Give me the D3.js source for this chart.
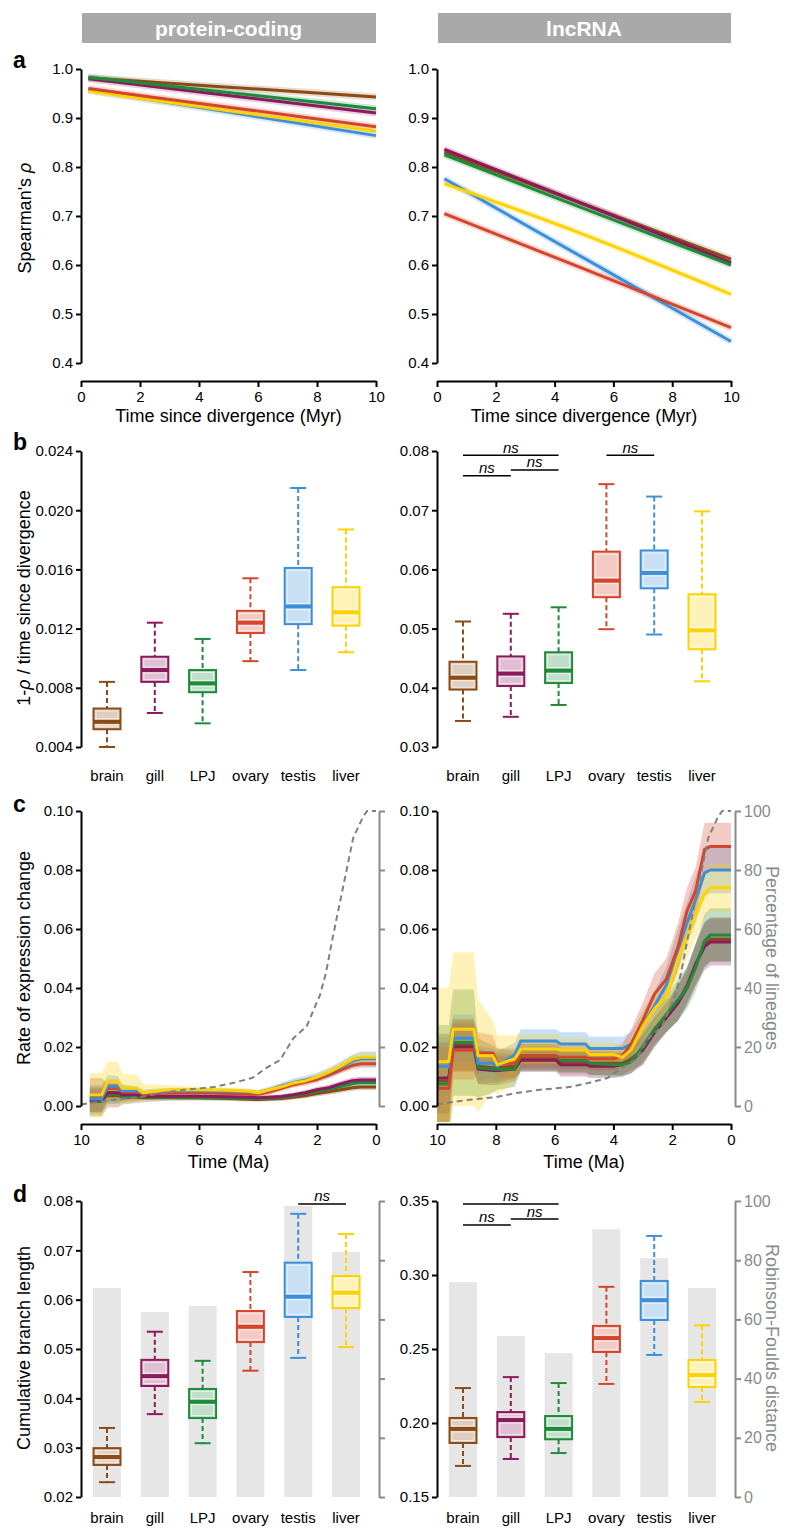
<!DOCTYPE html>
<html><head><meta charset="utf-8">
<script src="https://cdn.jsdelivr.net/npm/d3@7"></script>
<style>body{margin:0;background:#fff} svg{display:block}</style>
</head><body><svg id="fig" width="800" height="1538"></svg>
<script>
// ---------- DATA ----------
const tissues = ["brain","gill","LPJ","ovary","testis","liver"];
const tissueColors = ["#8b4a16","#8b1a5c","#1f8a3b","#d5452b","#3e8fd9","#ffd200"];
const headers = ["protein-coding","lncRNA"];

// panel a: fitted Spearman's rho vs time
const aTime = [0.25, 5, 10];
const aPcStart = [0.982, 0.980, 0.983, 0.960, 0.957, 0.955];
const aPcMid   = [0.963, 0.946, 0.952, 0.922, 0.912, 0.915];
const aPcEnd   = [0.943, 0.910, 0.919, 0.882, 0.864, 0.873];
const aLncStart = [0.830, 0.836, 0.825, 0.705, 0.776, 0.766];
const aLncMid   = [0.724, 0.724, 0.715, 0.592, 0.614, 0.662];
const aLncEnd   = [0.612, 0.605, 0.600, 0.472, 0.444, 0.540];
const aTicksX = [0,2,4,6,8,10];
const aTicksY = [0.4,0.5,0.6,0.7,0.8,0.9,1.0];

// panel b: 1-rho / time boxplots
const bPcLow  = [0.0040, 0.0063, 0.0056, 0.0098, 0.0092, 0.0104];
const bPcQ1   = [0.0052, 0.0084, 0.0077, 0.0117, 0.0123, 0.0122];
const bPcMed  = [0.0057, 0.0092, 0.0083, 0.0124, 0.0135, 0.0131];
const bPcQ3   = [0.0066, 0.0101, 0.0092, 0.0132, 0.0161, 0.0148];
const bPcHigh = [0.0084, 0.0124, 0.0113, 0.0154, 0.0215, 0.0187];
const bLncLow  = [0.0344, 0.0351, 0.0371, 0.0499, 0.0490, 0.0411];
const bLncQ1   = [0.0397, 0.0403, 0.0408, 0.0553, 0.0568, 0.0465];
const bLncMed  = [0.0417, 0.0424, 0.0429, 0.0581, 0.0594, 0.0497];
const bLncQ3   = [0.0444, 0.0453, 0.0460, 0.0630, 0.0632, 0.0558];
const bLncHigh = [0.0512, 0.0525, 0.0536, 0.0744, 0.0723, 0.0698];
const bPcTicks = [0.004,0.008,0.012,0.016,0.020,0.024];
const bLncTicks = [0.03,0.04,0.05,0.06,0.07,0.08];
const bLncSig = [["brain","LPJ",0.0793],["brain","gill",0.0758],["gill","LPJ",0.0768],["ovary","testis",0.0793]];

// panel c: rate of expression change through time
const cTimeL = [9.7, 9.3, 9.1, 8.75, 8.6, 8.1, 7.9, 7.0, 6.0, 5.0, 4.3, 4.0, 3.6, 3.2, 2.8, 2.4, 2.0, 1.6, 1.2, 0.8, 0.5, 0];
const cPcBrain  = [0.0030,0.0030,0.0035,0.0035,0.0030,0.0030,0.0028,0.0028,0.0027,0.0025,0.0023,0.0022,0.0024,0.0025,0.0030,0.0035,0.0042,0.0048,0.0055,0.0062,0.0064,0.0064];
const cPcGill   = [0.0020,0.0020,0.0045,0.0045,0.0038,0.0038,0.0032,0.0033,0.0033,0.0031,0.0030,0.0028,0.0030,0.0032,0.0038,0.0045,0.0055,0.0062,0.0075,0.0086,0.0088,0.0088];
const cPcLPJ    = [0.0015,0.0015,0.0040,0.0040,0.0032,0.0032,0.0030,0.0030,0.0030,0.0028,0.0026,0.0025,0.0027,0.0030,0.0035,0.0042,0.0050,0.0057,0.0066,0.0076,0.0080,0.0080];
const cPcOvary  = [0.0025,0.0025,0.0060,0.0060,0.0048,0.0048,0.0040,0.0045,0.0045,0.0042,0.0040,0.0040,0.0048,0.0060,0.0072,0.0080,0.0090,0.0105,0.0122,0.0138,0.0143,0.0143];
const cPcTestis = [0.0025,0.0025,0.0068,0.0068,0.0052,0.0052,0.0045,0.0052,0.0052,0.0050,0.0048,0.0045,0.0055,0.0068,0.0080,0.0088,0.0098,0.0113,0.0132,0.0152,0.0160,0.0160];
const cPcLiver  = [0.0037,0.0037,0.0082,0.0082,0.0060,0.0060,0.0045,0.0055,0.0055,0.0053,0.0050,0.0045,0.0055,0.0065,0.0078,0.0085,0.0098,0.0115,0.0135,0.0158,0.0165,0.0165];
const cPcBrainCI  = [0.0065,0.0065,0.0040,0.0040,0.0025,0.0020,0.0015,0.0010,0.0008,0.0008,0.0008,0.0008,0.0008,0.0008,0.0008,0.0009,0.0009,0.0010,0.0010,0.0010,0.0010,0.0010];
const cPcGillCI   = [0.0040,0.0040,0.0030,0.0030,0.0020,0.0015,0.0010,0.0008,0.0008,0.0008,0.0008,0.0008,0.0008,0.0008,0.0008,0.0009,0.0009,0.0010,0.0010,0.0011,0.0011,0.0011];
const cPcLPJCI    = [0.0040,0.0040,0.0032,0.0032,0.0020,0.0015,0.0010,0.0008,0.0008,0.0008,0.0008,0.0008,0.0008,0.0008,0.0008,0.0009,0.0009,0.0010,0.0010,0.0011,0.0011,0.0011];
const cPcOvaryCI  = [0.0040,0.0040,0.0030,0.0030,0.0020,0.0015,0.0010,0.0010,0.0009,0.0009,0.0009,0.0009,0.0010,0.0010,0.0010,0.0011,0.0011,0.0012,0.0012,0.0013,0.0013,0.0013];
const cPcTestisCI = [0.0045,0.0045,0.0035,0.0035,0.0022,0.0016,0.0011,0.0010,0.0009,0.0009,0.0009,0.0009,0.0011,0.0012,0.0013,0.0014,0.0015,0.0017,0.0019,0.0022,0.0025,0.0025];
const cPcLiverCI  = [0.0075,0.0075,0.0068,0.0068,0.0050,0.0045,0.0030,0.0015,0.0010,0.0010,0.0010,0.0010,0.0010,0.0011,0.0011,0.0012,0.0012,0.0013,0.0014,0.0015,0.0016,0.0016];

const cTimeR = [10, 9.6, 9.45, 8.75, 8.6, 8.1, 7.95, 7.35, 7.15, 5.95, 5.8, 4.95, 4.8, 4.0, 3.7, 3.4, 3.0, 2.6, 2.2, 1.8, 1.5, 1.2, 0.9, 0.7, 0];
const cLncBrain  = [0.0085,0.0085,0.0205,0.0205,0.0135,0.013,0.013,0.0135,0.016,0.016,0.015,0.015,0.0145,0.0145,0.0145,0.016,0.019,0.025,0.030,0.035,0.041,0.048,0.055,0.0565,0.0565];
const cLncGill   = [0.0095,0.0095,0.020,0.020,0.0125,0.012,0.012,0.0125,0.0155,0.0155,0.014,0.014,0.0135,0.0135,0.014,0.015,0.019,0.025,0.030,0.035,0.040,0.048,0.054,0.0556,0.0556];
const cLncLPJ    = [0.0075,0.0075,0.0215,0.0215,0.013,0.0125,0.0125,0.0125,0.017,0.017,0.0155,0.0155,0.0145,0.014,0.014,0.015,0.020,0.026,0.031,0.036,0.040,0.047,0.056,0.058,0.058];
const cLncOvary  = [0.006,0.006,0.019,0.019,0.018,0.018,0.0145,0.0145,0.017,0.017,0.0165,0.0165,0.016,0.016,0.017,0.021,0.029,0.038,0.043,0.054,0.066,0.073,0.087,0.088,0.088];
const cLncTestis = [0.0135,0.0135,0.023,0.023,0.0145,0.0145,0.0135,0.0175,0.022,0.022,0.021,0.021,0.0195,0.0195,0.0195,0.021,0.027,0.034,0.041,0.053,0.062,0.070,0.079,0.080,0.080];
const cLncLiver  = [0.015,0.015,0.026,0.026,0.017,0.017,0.014,0.016,0.0193,0.0193,0.019,0.019,0.0175,0.0175,0.0165,0.019,0.027,0.033,0.037,0.050,0.057,0.065,0.072,0.074,0.074];
const cLncBrainCI  = [0.016,0.016,0.009,0.009,0.006,0.005,0.005,0.004,0.004,0.004,0.004,0.004,0.004,0.004,0.004,0.004,0.005,0.005,0.005,0.006,0.006,0.007,0.0075,0.0075,0.0075];
const cLncGillCI   = [0.012,0.012,0.008,0.008,0.005,0.005,0.005,0.004,0.004,0.004,0.004,0.004,0.004,0.004,0.004,0.004,0.005,0.005,0.005,0.006,0.006,0.007,0.008,0.008,0.008];
const cLncLPJCI    = [0.020,0.020,0.018,0.018,0.010,0.008,0.007,0.006,0.005,0.005,0.004,0.004,0.004,0.004,0.004,0.004,0.005,0.005,0.006,0.007,0.007,0.008,0.009,0.009,0.009];
const cLncOvaryCI  = [0.014,0.014,0.010,0.010,0.007,0.006,0.005,0.005,0.004,0.004,0.004,0.004,0.004,0.004,0.004,0.005,0.006,0.007,0.007,0.008,0.008,0.008,0.009,0.008,0.008];
const cLncTestisCI = [0.010,0.010,0.008,0.008,0.006,0.005,0.005,0.004,0.004,0.004,0.004,0.004,0.004,0.004,0.004,0.004,0.005,0.005,0.006,0.007,0.007,0.008,0.008,0.008,0.008];
const cLncLiverCI  = [0.025,0.025,0.026,0.026,0.019,0.012,0.010,0.008,0.005,0.005,0.004,0.004,0.004,0.004,0.004,0.004,0.005,0.006,0.006,0.007,0.007,0.008,0.008,0.008,0.008];

const cPctTime = [10, 9.7, 9, 8, 7.3, 6.5, 5.5, 4.85, 4.2, 3.7, 3.25, 2.8, 2.35, 1.9, 1.7, 1.45, 1.1, 0.77, 0.44, 0.3, 0];
const cPct     = [0.5, 1, 2, 3, 4.4, 5.5, 6.4, 7.8, 9.5, 13, 15.6, 23, 27, 37.6, 45, 58, 75, 91, 98, 100, 100];
const cTicksY = [0,0.02,0.04,0.06,0.08,0.10];
const cTicksX = [10,8,6,4,2,0];
const pctTicks = [0,20,40,60,80,100];

// panel d: cumulative branch length + Robinson-Foulds distance
const dPcLow  = [0.0230, 0.0368, 0.0309, 0.0456, 0.0482, 0.0504];
const dPcQ1   = [0.0265, 0.0425, 0.0360, 0.0514, 0.0565, 0.0583];
const dPcMed  = [0.0281, 0.0445, 0.0393, 0.0545, 0.0606, 0.0614];
const dPcQ3   = [0.0299, 0.0478, 0.0419, 0.0577, 0.0675, 0.0648];
const dPcHigh = [0.0340, 0.0535, 0.0476, 0.0656, 0.0774, 0.0733];
const dLncLow  = [0.171, 0.1757, 0.1797, 0.2264, 0.246, 0.2142];
const dLncQ1   = [0.1865, 0.1905, 0.189, 0.248, 0.2696, 0.2243];
const dLncMed  = [0.196, 0.202, 0.196, 0.2574, 0.283, 0.2324];
const dLncQ3   = [0.2034, 0.2074, 0.2047, 0.2656, 0.296, 0.2426];
const dLncHigh = [0.2236, 0.231, 0.227, 0.292, 0.3264, 0.266];
const dPcRF  = [70.6, 62.5, 64.5, 58, 98.3, 82.8];
const dLncRF = [72.6, 54.4, 48.6, 90.5, 80.7, 70.6];
const dPcTicks = [0.02,0.03,0.04,0.05,0.06,0.07,0.08];
const dLncTicks = [0.15,0.20,0.25,0.30,0.35];
const dPcSig = [["testis","liver",0.0794]];
const dLncSig = [["brain","LPJ",0.348],["brain","gill",0.3338],["gill","LPJ",0.3378]];

// ---------- DRAWING ----------
const FONT = '"Liberation Sans", Arial, Helvetica, sans-serif';
const GREY = "#8a8a8a";
const svg = d3.select("#fig").attr("font-family", FONT);
const cols = [{x0:81, x1:376, rx:379}, {x0:437, x1:731, rx:735}];

function styleAxis(ax, color) {
  ax.attr("font-family", FONT).attr("font-size", 15);
  ax.select(".domain").attr("stroke", color).attr("stroke-width", 2);
  ax.selectAll(".tick line").attr("stroke", color).attr("stroke-width", 2);
  ax.selectAll(".tick text").attr("fill", color);
}
function leftAxis(scale, ticks, fmt, x) {
  const ax = svg.append("g").attr("transform", `translate(${x},0)`)
    .call(d3.axisLeft(scale).tickValues(ticks).tickFormat(d3.format(fmt)).tickSize(5).tickSizeOuter(0).tickPadding(3));
  styleAxis(ax, "#000");
}
function bottomAxis(scale, ticks, y) {
  const ax = svg.append("g").attr("transform", `translate(0,${y})`)
    .call(d3.axisBottom(scale).tickValues(ticks).tickFormat(d3.format("d")).tickSize(6).tickSizeOuter(0).tickPadding(4));
  styleAxis(ax, "#000");
}
function rightAxis(scale, ticks, x, labels) {
  const ax = svg.append("g").attr("transform", `translate(${x},0)`)
    .call(d3.axisRight(scale).tickValues(ticks).tickFormat(labels ? d3.format("d") : "").tickSize(6).tickSizeOuter(0).tickPadding(3));
  styleAxis(ax, GREY);
  ax.selectAll(".tick text").attr("font-size", 16);
}
function vTitle(txt, cx, cy, color, rot, italicRho) {
  const t = svg.append("text").attr("transform", `translate(${cx},${cy}) rotate(${rot})`)
    .attr("text-anchor", "middle").attr("dominant-baseline", "central")
    .attr("font-size", 18).attr("fill", color);
  if (italicRho) {
    const parts = txt.split("ρ");
    t.append("tspan").text(parts[0]);
    t.append("tspan").attr("font-style", "italic").text("ρ");
    t.append("tspan").text(parts[1]);
  } else t.text(txt);
}
function hTitle(txt, cx, y) {
  svg.append("text").attr("x", cx).attr("y", y).attr("text-anchor", "middle")
    .attr("font-size", 18).attr("fill", "#000").text(txt);
}
function panelLetter(l, y) {
  svg.append("text").attr("x", 13).attr("y", y).attr("font-size", 23).attr("font-weight", "bold").text(l);
}

// headers
cols.forEach((c, k) => {
  svg.append("rect").attr("x", c.x0 + 1).attr("y", 13).attr("width", c.x1 - c.x0 - 1).attr("height", 30).attr("fill", "#a9a9a9");
  svg.append("text").attr("x", (c.x0 + c.x1) / 2).attr("y", 36).attr("text-anchor", "middle")
    .attr("font-size", 21).attr("font-weight", "bold").attr("fill", "#fff").text(headers[k]);
});

// ---- panel a ----
function panelA(col, start, mid, end, order) {
  const x = d3.scaleLinear([0, 10], [col.x0, col.x1]);
  const y = d3.scaleLinear([0.4, 1.0], [363, 69]);
  leftAxis(y, aTicksY, ".1f", col.x0);
  bottomAxis(x, aTicksX, 381);
  hTitle("Time since divergence (Myr)", (col.x0 + col.x1) / 2, 422);
  const line = d3.line().x(d => x(d[0])).y(d => y(d[1])).curve(d3.curveMonotoneX);
  const series = order.map(i => ({i, pts: aTime.map((t, j) => [t, [start, mid, end][j][i]])}));
  series.forEach(s => svg.append("path").attr("d", line(s.pts)).attr("fill", "none")
    .attr("stroke", tissueColors[s.i]).attr("stroke-width", 7).attr("stroke-opacity", 0.2));
  series.forEach(s => svg.append("path").attr("d", line(s.pts)).attr("fill", "none")
    .attr("stroke", tissueColors[s.i]).attr("stroke-width", 3));
}
panelA(cols[0], aPcStart, aPcMid, aPcEnd, [4, 5, 3, 1, 0, 2]);
panelA(cols[1], aLncStart, aLncMid, aLncEnd, [0, 1, 2, 4, 5, 3]);
vTitle("Spearman's ρ", 25, 218, "#000", -90, true);
panelLetter("a", 68);

// ---- boxplots ----
function boxes(x, y, low, q1, med, q3, high) {
  const bw = 27, cap = 8;
  tissues.forEach((t, i) => {
    const cx = x(t), col = tissueColors[i];
    const g = svg.append("g");
    g.append("line").attr("x1", cx).attr("x2", cx).attr("y1", y(high[i])).attr("y2", y(q3[i]))
      .attr("stroke", col).attr("stroke-width", 2).attr("stroke-dasharray", "5,3");
    g.append("line").attr("x1", cx).attr("x2", cx).attr("y1", y(q1[i])).attr("y2", y(low[i]))
      .attr("stroke", col).attr("stroke-width", 2).attr("stroke-dasharray", "5,3");
    [high[i], low[i]].forEach(v => g.append("line").attr("x1", cx - cap).attr("x2", cx + cap)
      .attr("y1", y(v)).attr("y2", y(v)).attr("stroke", col).attr("stroke-width", 2));
    g.append("rect").attr("x", cx - bw / 2).attr("width", bw).attr("y", y(q3[i])).attr("height", y(q1[i]) - y(q3[i]))
      .attr("fill", "#fff");
    g.append("rect").attr("x", cx - bw / 2).attr("width", bw).attr("y", y(q3[i])).attr("height", y(q1[i]) - y(q3[i]))
      .attr("fill", col).attr("fill-opacity", 0.28).attr("stroke", col).attr("stroke-width", 2);
    g.append("rect").attr("x", cx - bw / 2 + 2.5).attr("width", bw - 5).attr("y", y(q3[i]) + 2.5)
      .attr("height", Math.max(0, y(q1[i]) - y(q3[i]) - 5)).attr("fill", "none").attr("stroke", "#fff").attr("stroke-opacity", 0.6).attr("stroke-width", 1);
    [y(med[i]) - 3, y(med[i]) + 3].forEach(yy => g.append("line").attr("x1", cx - bw / 2 + 2).attr("x2", cx + bw / 2 - 2)
      .attr("y1", yy).attr("y2", yy).attr("stroke", "#fff").attr("stroke-opacity", 0.7).attr("stroke-width", 1));
    g.append("line").attr("x1", cx - bw / 2).attr("x2", cx + bw / 2).attr("y1", y(med[i])).attr("y2", y(med[i]))
      .attr("stroke", col).attr("stroke-width", 4);
  });
}
function catLabels(x, yPos) {
  tissues.forEach(t => svg.append("text").attr("x", x(t)).attr("y", yPos).attr("text-anchor", "middle")
    .attr("font-size", 15).attr("dominant-baseline", "central").text(t));
}
function sigBars(x, y, sig) {
  sig.forEach(s => {
    const xa = x(s[0]), xb = x(s[1]), yy = y(s[2]);
    svg.append("line").attr("x1", xa).attr("x2", xb).attr("y1", yy).attr("y2", yy).attr("stroke", "#000").attr("stroke-width", 1.5);
    svg.append("text").attr("x", (xa + xb) / 2).attr("y", yy - 2.5).attr("text-anchor", "middle")
      .attr("font-size", 15).attr("font-style", "italic").text("ns");
  });
}
function catScale(col) { return d3.scalePoint(tissues, [col.x0 + 26, col.x1 - 30 + (col.x0 > 100 ? 1 : 0)]); }

// ---- panel b ----
{
  const xl = catScale(cols[0]), xr = catScale(cols[1]);
  const yl = d3.scaleLinear([0.004, 0.024], [747, 451]);
  const yr = d3.scaleLinear([0.03, 0.08], [747, 451]);
  leftAxis(yl, bPcTicks, ".3f", cols[0].x0);
  leftAxis(yr, bLncTicks, ".2f", cols[1].x0);
  boxes(xl, yl, bPcLow, bPcQ1, bPcMed, bPcQ3, bPcHigh);
  boxes(xr, yr, bLncLow, bLncQ1, bLncMed, bLncQ3, bLncHigh);
  catLabels(xl, 775); catLabels(xr, 775);
  sigBars(xr, yr, bLncSig);
  vTitle("1-ρ / time since divergence", 24, 598, "#000", -90, true);
  panelLetter("b", 450);
}

// ---- panel c ----
const cPcMean = [cPcBrain, cPcGill, cPcLPJ, cPcOvary, cPcTestis, cPcLiver];
const cPcCI = [cPcBrainCI, cPcGillCI, cPcLPJCI, cPcOvaryCI, cPcTestisCI, cPcLiverCI];
const cLncMean = [cLncBrain, cLncGill, cLncLPJ, cLncOvary, cLncTestis, cLncLiver];
const cLncCI = [cLncBrainCI, cLncGillCI, cLncLPJCI, cLncOvaryCI, cLncTestisCI, cLncLiverCI];
function panelC(col, k, times, means, cis, order, labels) {
  const x = d3.scaleLinear([10, 0], [col.x0, col.x1]);
  const y = d3.scaleLinear([0, 0.1], [1106, 811]);
  const yp = d3.scaleLinear([0, 100], [1106, 811]);
  const clipId = "clipc" + k;
  svg.append("clipPath").attr("id", clipId).append("rect")
    .attr("x", col.x0).attr("y", 790).attr("width", col.x1 - col.x0).attr("height", 1122 - 790);
  const g = svg.append("g").attr("clip-path", `url(#${clipId})`);
  const area = d3.area().x(d => x(d[0])).y0(d => y(d[1] - d[2])).y1(d => y(d[1] + d[2]));
  const line = d3.line().x(d => x(d[0])).y(d => y(d[1]));
  const series = order.map(i => ({i, pts: times.map((t, j) => [t, means[i][j], cis[i][j]])}));
  series.forEach(s => g.append("path").attr("d", area(s.pts)).attr("fill", tissueColors[s.i]).attr("fill-opacity", 0.28));
  series.forEach(s => g.append("path").attr("d", line(s.pts)).attr("fill", "none")
    .attr("stroke", tissueColors[s.i]).attr("stroke-width", 3).attr("stroke-linejoin", "round"));
  const pl = d3.line().x(d => x(d[0])).y(d => yp(d[1]));
  svg.append("path").attr("d", pl(cPctTime.map((t, j) => [t, cPct[j]]))).attr("fill", "none")
    .attr("stroke", "#808080").attr("stroke-width", 2).attr("stroke-dasharray", "6,4");
  leftAxis(y, cTicksY, ".2f", col.x0);
  bottomAxis(x, cTicksX, 1124);
  rightAxis(yp, pctTicks, col.rx, labels);
  hTitle("Time (Ma)", (col.x0 + col.x1) / 2, 1168);
}
panelC(cols[0], 0, cTimeL, cPcMean, cPcCI, [0, 2, 1, 3, 4, 5], false);
panelC(cols[1], 1, cTimeR, cLncMean, cLncCI, [0, 1, 2, 4, 3, 5], true);
vTitle("Rate of expression change", 24, 958, "#000", -90, false);
vTitle("Percentage of lineages", 772, 958, GREY, 90, false);
panelLetter("c", 812);

// ---- panel d ----
{
  const xl = catScale(cols[0]), xr = catScale(cols[1]);
  const yl = d3.scaleLinear([0.02, 0.08], [1497, 1201]);
  const yr = d3.scaleLinear([0.15, 0.35], [1497, 1201]);
  const yrf = d3.scaleLinear([0, 100], [1497, 1201]);
  [[xl, dPcRF], [xr, dLncRF]].forEach(([x, rf]) => tissues.forEach((t, i) =>
    svg.append("rect").attr("x", x(t) - 14).attr("width", 28).attr("y", yrf(rf[i])).attr("height", yrf(0) - yrf(rf[i]))
      .attr("fill", "#e6e6e6")));
  leftAxis(yl, dPcTicks, ".2f", cols[0].x0);
  leftAxis(yr, dLncTicks, ".2f", cols[1].x0);
  rightAxis(yrf, pctTicks, cols[0].rx, false);
  rightAxis(yrf, pctTicks, cols[1].rx, true);
  boxes(xl, yl, dPcLow, dPcQ1, dPcMed, dPcQ3, dPcHigh);
  boxes(xr, yr, dLncLow, dLncQ1, dLncMed, dLncQ3, dLncHigh);
  catLabels(xl, 1517); catLabels(xr, 1517);
  sigBars(xl, yl, dPcSig);
  sigBars(xr, yr, dLncSig);
  vTitle("Cumulative branch length", 24, 1348, "#000", -90, false);
  vTitle("Robinson-Foulds distance", 772, 1348, GREY, 90, false);
  panelLetter("d", 1202);
}
</script></body></html>
